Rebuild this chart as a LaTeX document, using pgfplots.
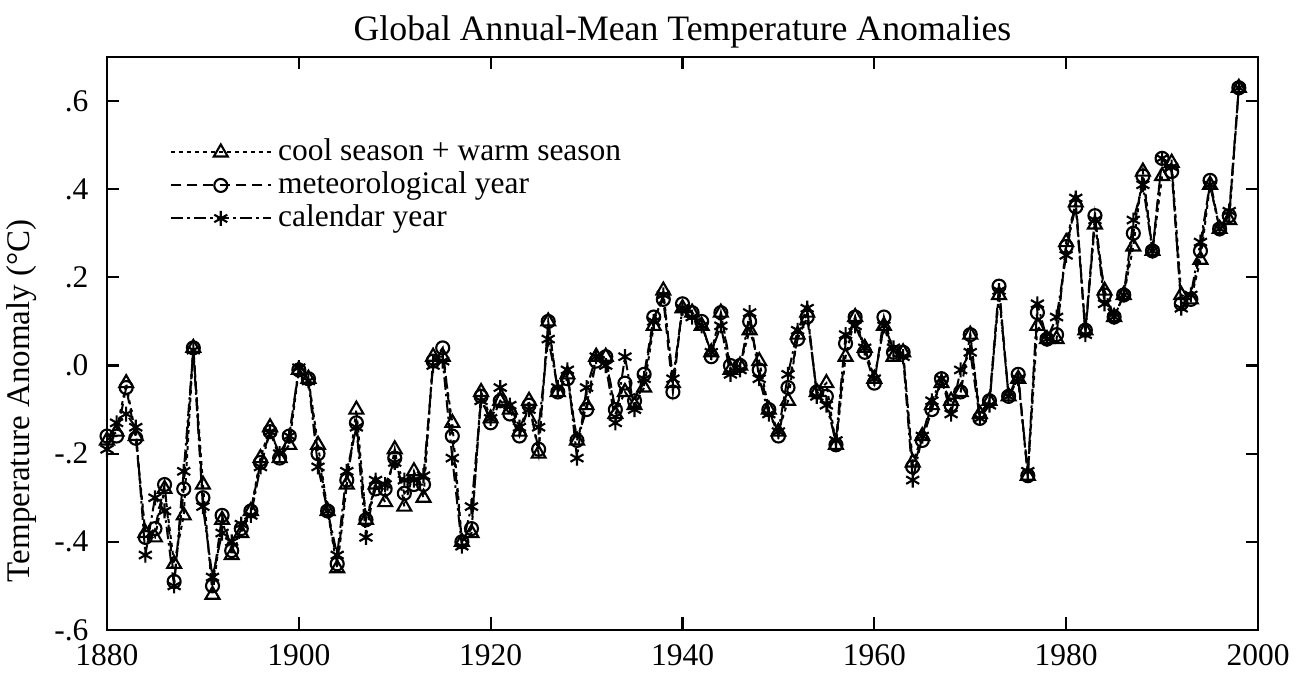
\documentclass[border=0pt]{standalone}
\usepackage{fontspec}
\setmainfont{Liberation Serif}
\usepackage{pgfplots}
\usepackage{pgfplotstable}
\pgfplotsset{compat=1.18}

% year, cool+warm season, meteorological year, calendar year
\pgfplotstableread{
year cw met cal
1880 -0.17 -0.16 -0.19
1881 -0.15 -0.16 -0.13
1882 -0.04 -0.05 -0.11
1883 -0.16 -0.165 -0.14
1884 -0.38 -0.39 -0.43
1885 -0.39 -0.37 -0.30
1886 -0.28 -0.27 -0.33
1887 -0.45 -0.49 -0.50
1888 -0.34 -0.28 -0.24
1889 0.04 0.04 0.035
1890 -0.27 -0.30 -0.32
1891 -0.52 -0.50 -0.48
1892 -0.35 -0.34 -0.38
1893 -0.43 -0.42 -0.40
1894 -0.38 -0.37 -0.36
1895 -0.33 -0.33 -0.34
1896 -0.21 -0.22 -0.23
1897 -0.14 -0.15 -0.15
1898 -0.21 -0.21 -0.20
1899 -0.18 -0.16 -0.16
1900 -0.01 -0.01 -0.005
1901 -0.03 -0.03 -0.035
1902 -0.18 -0.20 -0.23
1903 -0.33 -0.33 -0.33
1904 -0.46 -0.45 -0.43
1905 -0.27 -0.26 -0.24
1906 -0.10 -0.13 -0.14
1907 -0.35 -0.35 -0.39
1908 -0.27 -0.28 -0.26
1909 -0.31 -0.28 -0.27
1910 -0.19 -0.21 -0.22
1911 -0.32 -0.29 -0.26
1912 -0.24 -0.27 -0.26
1913 -0.30 -0.27 -0.25
1914 0.02 0.01 0.00
1915 0.02 0.04 0.01
1916 -0.13 -0.16 -0.21
1917 -0.40 -0.40 -0.41
1918 -0.38 -0.37 -0.32
1919 -0.06 -0.07 -0.08
1920 -0.12 -0.13 -0.12
1921 -0.08 -0.08 -0.05
1922 -0.10 -0.11 -0.09
1923 -0.15 -0.16 -0.14
1924 -0.08 -0.09 -0.10
1925 -0.20 -0.19 -0.14
1926 0.10 0.10 0.06
1927 -0.06 -0.06 -0.05
1928 -0.02 -0.03 -0.01
1929 -0.17 -0.17 -0.21
1930 -0.09 -0.10 -0.05
1931 0.02 0.01 0.02
1932 0.02 0.02 0.00
1933 -0.11 -0.10 -0.13
1934 -0.06 -0.04 0.02
1935 -0.09 -0.08 -0.10
1936 -0.05 -0.02 -0.03
1937 0.09 0.11 0.10
1938 0.17 0.15 0.16
1939 -0.04 -0.06 -0.03
1940 0.13 0.14 0.13
1941 0.12 0.12 0.11
1942 0.09 0.10 0.09
1943 0.03 0.02 0.03
1944 0.12 0.12 0.09
1945 -0.01 0.00 -0.02
1946 0.00 0.00 -0.01
1947 0.08 0.10 0.12
1948 0.01 -0.01 -0.03
1949 -0.10 -0.10 -0.11
1950 -0.15 -0.16 -0.15
1951 -0.08 -0.05 -0.02
1952 0.07 0.06 0.08
1953 0.12 0.11 0.13
1954 -0.06 -0.06 -0.07
1955 -0.04 -0.07 -0.09
1956 -0.18 -0.18 -0.17
1957 0.02 0.05 0.07
1958 0.11 0.11 0.09
1959 0.04 0.03 0.04
1960 -0.03 -0.04 -0.03
1961 0.09 0.11 0.09
1962 0.02 0.03 0.04
1963 0.03 0.03 0.02
1964 -0.22 -0.23 -0.26
1965 -0.16 -0.17 -0.16
1966 -0.09 -0.10 -0.08
1967 -0.04 -0.03 -0.03
1968 -0.08 -0.09 -0.11
1969 -0.06 -0.06 -0.01
1970 0.07 0.07 0.03
1971 -0.11 -0.12 -0.12
1972 -0.08 -0.08 -0.09
1973 0.16 0.18 0.17
1974 -0.07 -0.07 -0.07
1975 -0.03 -0.02 -0.03
1976 -0.25 -0.25 -0.24
1977 0.09 0.12 0.14
1978 0.06 0.06 0.06
1979 0.06 0.07 0.11
1980 0.28 0.27 0.25
1981 0.37 0.36 0.38
1982 0.08 0.08 0.07
1983 0.32 0.34 0.33
1984 0.17 0.16 0.14
1985 0.11 0.11 0.11
1986 0.16 0.16 0.16
1987 0.27 0.30 0.33
1988 0.44 0.43 0.41
1989 0.26 0.26 0.26
1990 0.43 0.47 0.47
1991 0.46 0.44 0.45
1992 0.16 0.14 0.13
1993 0.15 0.15 0.16
1994 0.24 0.26 0.28
1995 0.41 0.42 0.41
1996 0.31 0.31 0.31
1997 0.33 0.34 0.35
1998 0.63 0.63 0.63
}\temps

\begin{document}
\begin{tikzpicture}
% page box: 1 px of the reference = 0.4pt
\useasboundingbox (-42.8pt,-17.2pt) rectangle (476.8pt,252pt);
\begin{axis}[
    scale only axis,
    width=460.4pt,
    height=229.2pt,
    xmin=1880, xmax=2000,
    ymin=-0.6, ymax=0.7,
    xtick={1880,1900,1920,1940,1960,1980,2000},
    xticklabels={1880,1900,1920,1940,1960,1980,2000},
    ytick={-0.6,-0.4,-0.2,0,0.2,0.4,0.6},
    yticklabels={-.6,-.4,-.2,.0,.2,.4,.6},
    tick align=inside,
    major tick length=5pt,
    axis line style={line width=1.1pt},
    every tick/.style={black, line width=0.9pt},
    ticklabel style={font=\fontsize{12.6}{14}\selectfont, inner sep=0.5pt},
    xticklabel style={yshift=-5pt},
    yticklabel style={xshift=-6.7pt},
    title={Global Annual-Mean Temperature Anomalies},
    title style={font=\fontsize{14.3}{17}\selectfont, yshift=-6pt},
    ylabel={Temperature Anomaly (°C)},
    ylabel style={font=\fontsize{13.2}{15}\selectfont, at={(axis description cs:-0.074,0.40)}, anchor=center},
    legend cell align=left,
    legend image code/.code={\draw[mark repeat=2,mark phase=2,#1] plot coordinates {(0pt,0pt) (20pt,0pt) (40pt,0pt)};},
    legend style={at={(0.0476,0.870)}, anchor=north west, draw=none, fill=none,
        font=\fontsize{12.6}{14}\selectfont, row sep=0.8pt,
        nodes={inner xsep=2.5pt, inner ysep=0.5pt, text height=8.8pt, text depth=2.6pt}},
]
\addplot[black, line width=0.8pt, dash pattern=on 1.6pt off 1.6pt,
    mark=triangle, mark size=3.2pt, mark options={solid, line width=0.85pt}]
    table[x=year, y=cw] {\temps};
\addlegendentry{cool season + warm season}
\addplot[black, line width=0.8pt, dash pattern=on 4pt off 2.5pt,
    mark=o, mark size=2.6pt, mark options={solid, line width=0.85pt}]
    table[x=year, y=met] {\temps};
\addlegendentry{meteorological year}
\addplot[black, line width=0.8pt, dash pattern=on 5pt off 1.6pt on 1pt off 1.6pt,
    mark=asterisk, mark size=3pt, mark options={solid, line width=0.85pt}]
    table[x=year, y=cal] {\temps};
\addlegendentry{calendar year}
\end{axis}
\end{tikzpicture}
\end{document}
